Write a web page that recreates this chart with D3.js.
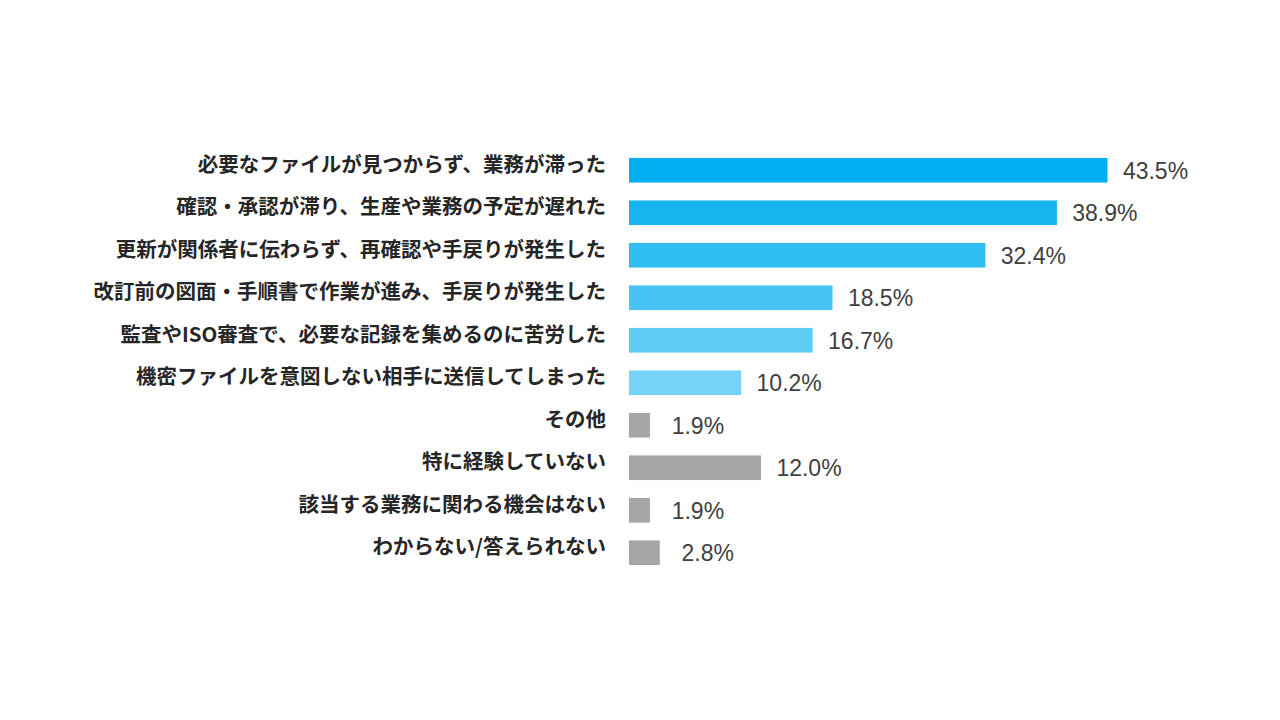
<!DOCTYPE html>
<html>
<head>
<meta charset="utf-8">
<script src="https://cdn.jsdelivr.net/npm/d3@7"></script>
<style>
  html, body { margin: 0; padding: 0; background: #ffffff; }
  svg { display: block; }
</style>
</head>
<body>
<svg id="chart" width="1280" height="720"></svg>
<script>
const categories = [
  "必要なファイルが見つからず、業務が滞った",
  "確認・承認が滞り、生産や業務の予定が遅れた",
  "更新が関係者に伝わらず、再確認や手戻りが発生した",
  "改訂前の図面・手順書で作業が進み、手戻りが発生した",
  "監査やISO審査で、必要な記録を集めるのに苦労した",
  "機密ファイルを意図しない相手に送信してしまった",
  "その他",
  "特に経験していない",
  "該当する業務に関わる機会はない",
  "わからない/答えられない"
];
const values = [43.5, 38.9, 32.4, 18.5, 16.7, 10.2, 1.9, 12.0, 1.9, 2.8];
const barColors = ["#00AFEF", "#17B5EF", "#30BDF1", "#47C4F3", "#5FCCF5", "#75D4F7",
                   "#A6A6A6", "#A6A6A6", "#A6A6A6", "#A6A6A6"];

const svg = d3.select("#chart");

const x = d3.scaleLinear().domain([0, 50]).range([629, 1179]);
const y = d3.scaleBand().domain(categories).range([149, 574])
  .paddingInner(0.42).paddingOuter(0.21);

const rows = categories.map((c, i) => ({ c, v: values[i], color: barColors[i] }));

svg.append("g").selectAll("rect").data(rows).join("rect")
  .attr("x", x(0))
  .attr("y", d => y(d.c))
  .attr("width", d => x(d.v) - x(0))
  .attr("height", y.bandwidth())
  .attr("fill", d => d.color);

// category labels
const yAxis = d3.axisLeft(y).tickSize(0).tickPadding(0);
const ag = svg.append("g").attr("transform", `translate(606,-5)`).call(yAxis);
ag.select(".domain").remove();
ag.selectAll("text")
  .attr("font-family", "'Noto Sans CJK JP', 'Noto Sans', sans-serif")
  .attr("font-weight", "bold")
  .attr("font-size", 20.5)
  .attr("fill", "#262626")
  .attr("dy", "0.32em");

// value labels
svg.append("g").selectAll("text").data(rows).join("text")
  .attr("x", d => x(d.v) + 48)
  .attr("y", d => y(d.c) + y.bandwidth() / 2)
  .attr("dy", "0.38em")
  .attr("text-anchor", "middle")
  .attr("font-family", "'Liberation Sans', Arial, sans-serif")
  .attr("font-size", 23)
  .attr("fill", "#404040")
  .text(d => d.v.toFixed(1) + "%");
</script>
</body>
</html>
